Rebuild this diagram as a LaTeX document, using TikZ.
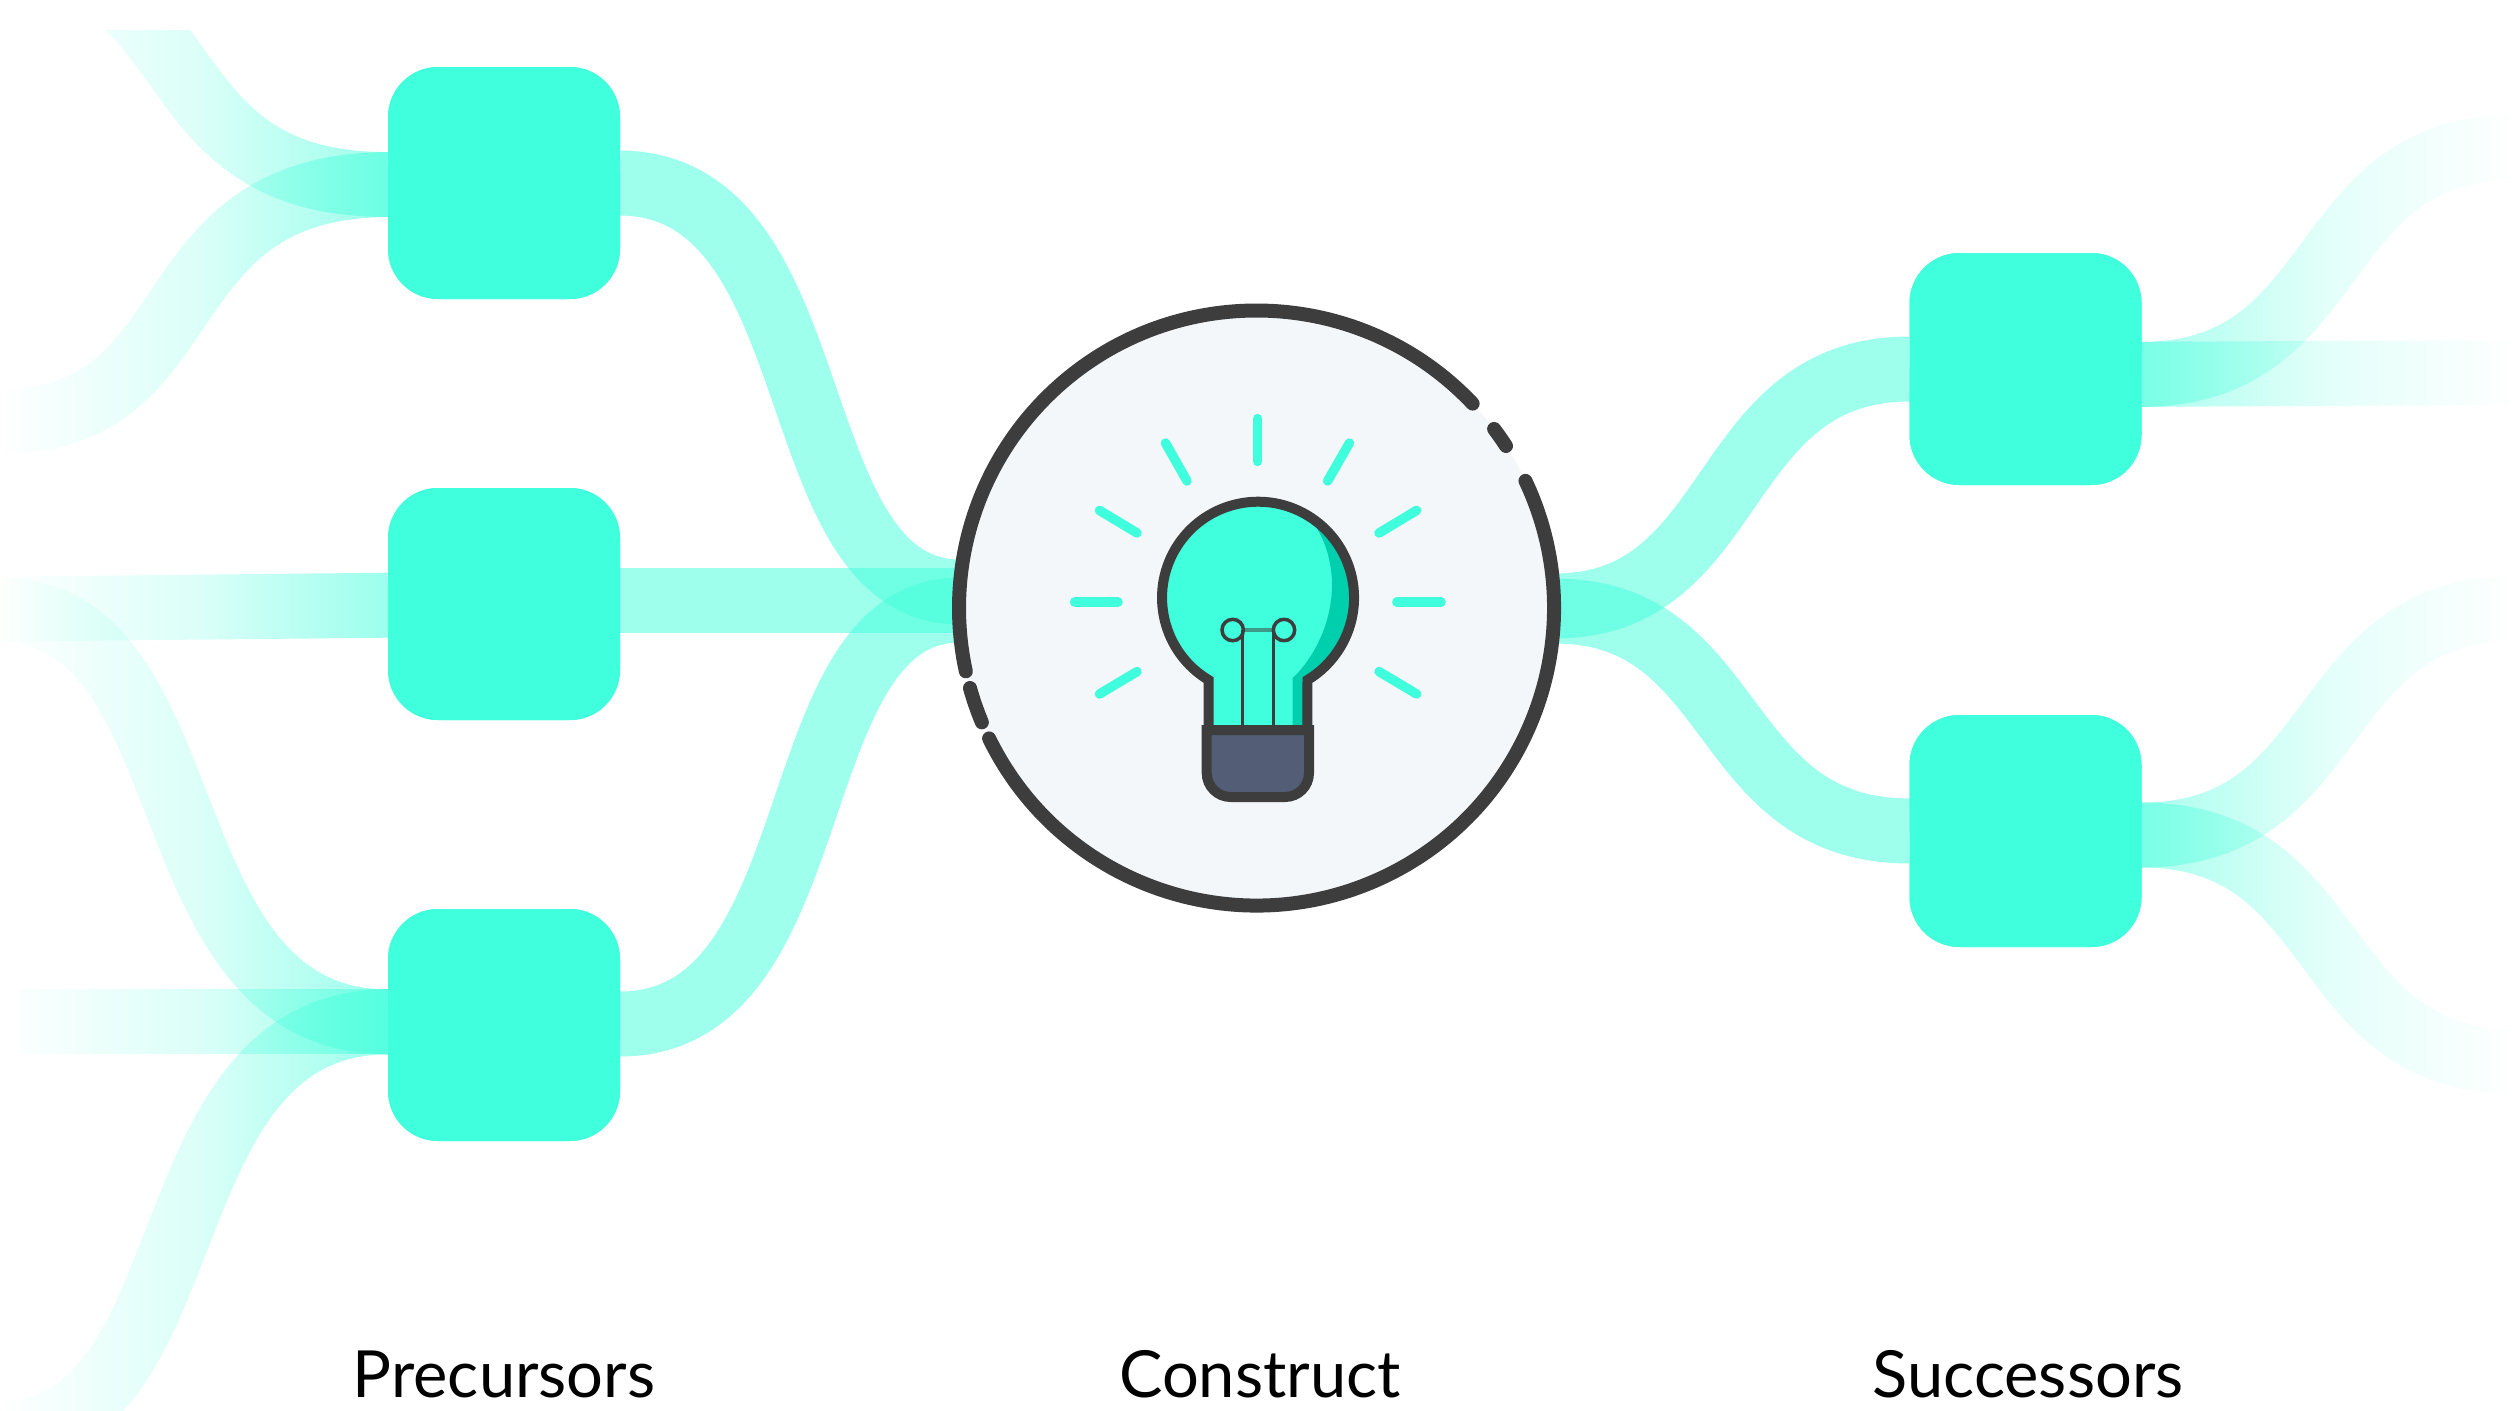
\documentclass[tikz,border=0pt]{standalone}
\usepackage{fontspec}
\setmainfont{Lato}
\usetikzlibrary{fadings}
\definecolor{mint}{HTML}{40FFDC}
\definecolor{mintdark}{HTML}{00CFAD}
\definecolor{ink}{HTML}{3D3D3D}
\definecolor{disc}{HTML}{F3F7FA}
\definecolor{cap}{HTML}{535D76}
\definecolor{wire}{HTML}{3D9A88}
\tikzfading[name=fadeleft, left color=transparent!100, right color=transparent!48, middle color=transparent!82]
\tikzfading[name=faderight, left color=transparent!55, right color=transparent!100, middle color=transparent!86]
\tikzset{
  x=1pt,y=-1pt,
  boxnode/.style={draw=none,fill=mint,rounded corners=50pt,minimum size=232pt,inner sep=0pt,outer sep=0pt},
  flowline/.style={line width=65pt,draw=mint},
  solidflow/.style={flowline,draw opacity=0.5},
  ray/.style={line width=9.5pt,draw=mint,line cap=round},
  rim/.style={line width=14pt,draw=ink,line cap=round},
  bulbline/.style={line width=10pt,draw=ink,line join=miter},
  fil/.style={line width=3.5pt,draw=ink},
  lab/.style={anchor=base,inner sep=0pt,font=\fontsize{65pt}{72pt}\selectfont,text=black},
}
\newcommand{\leftflow}[1]{\begin{scope}\clip (0,30) rectangle (388,1411);\path[scope fading=fadeleft] (0,0) rectangle (388,1411);\draw[flowline] #1;\end{scope}}
\newcommand{\rightflow}[1]{\begin{scope}\clip (2141,0) rectangle (2517,1411);\path[scope fading=faderight] (2141,0) rectangle (2517,1411);\draw[flowline] #1;\end{scope}}
\begin{document}
\begin{tikzpicture}
\useasboundingbox (0,0) rectangle (2517,1411);
\fill[white] (0,0) rectangle (2517,1411);
% named places
\node[circle,minimum size=595pt,inner sep=0pt,outer sep=0pt] (hub) at (1256.5,608) {};
\node[boxnode] (p1) at (504,183) {};
\node[boxnode] (p2) at (504,604) {};
\node[boxnode] (p3) at (504,1025) {};
\node[boxnode] (s1) at (2025.5,369) {};
\node[boxnode] (s2) at (2025.5,831) {};
\coordinate (a1) at (0,-41);
\coordinate (a2) at (0,420);
\coordinate (a3) at (0,608);
\coordinate (a4) at (0,609);
\coordinate (a5) at (20,1021);
\coordinate (a6) at (0,1433);
\coordinate (h1) at (960,592);
\coordinate (h2) at (960,600);
\coordinate (h3) at (960,610);
\coordinate (h4) at (1555,606);
\coordinate (h5) at (1555,611);
\coordinate (z1) at (2517,145);
\coordinate (z2) at (2517,371);
\coordinate (z3) at (2517,607);
\coordinate (z4) at (2517,1061);
\coordinate (p2e) at ([yshift=4pt]p2.east);
\coordinate (p3w) at ([yshift=4pt]p3.west);
\coordinate (p3e) at ([yshift=1pt]p3.east);
\coordinate (s1e) at ([yshift=-4pt]s1.east);
\coordinate (s2e) at ([yshift=-3pt]s2.east);
% faded flows
\leftflow{(p1.west) .. controls (144,184) and (210,-41) .. (a1)}
\leftflow{(p1.west) .. controls (144,184) and (210,420) .. (a2)}
\leftflow{(p2.west) -- (a3)}
\leftflow{(p3w) .. controls (144,1021) and (210,609) .. (a4)}
\leftflow{(p3w) -- (a5)}
\leftflow{(p3w) .. controls (144,1021) and (210,1433) .. (a6)}
\rightflow{(s1e) .. controls (2348,373) and (2310,145) .. (z1)}
\rightflow{(s1e) -- (z2)}
\rightflow{(s2e) .. controls (2348,834) and (2310,607) .. (z3)}
\rightflow{(s2e) .. controls (2348,834) and (2310,1061) .. (z4)}
% solid flows
\draw[solidflow] (p1.east) .. controls (834,184) and (778,592) .. (h1);
\draw[solidflow] (p2e) -- (h2);
\draw[solidflow] (p3e) .. controls (834,1024) and (778,610) .. (h3);
\draw[solidflow] (h4) .. controls (1741,606) and (1715,369) .. (s1.west);
\draw[solidflow] (h5) .. controls (1741,611) and (1715,831) .. (s2.west);
% boxes on top
\node[boxnode] at (p1.center) {};
\node[boxnode] at (p2.center) {};
\node[boxnode] at (p3.center) {};
\node[boxnode] at (s1.center) {};
\node[boxnode] at (s2.center) {};
% hub
\fill[disc] (hub.center) circle[radius=297.5pt];
\draw[rim] ([shift=(43.4:297.5pt)]hub.center) arc[start angle=43.4,end angle=192.3,radius=297.5pt];
\draw[rim] ([shift=(195.6:297.5pt)]hub.center) arc[start angle=195.6,end angle=202.6,radius=297.5pt];
\draw[rim] ([shift=(206:297.5pt)]hub.center) arc[start angle=206,end angle=385.3,radius=297.5pt];
\draw[rim] ([shift=(33:297.5pt)]hub.center) arc[start angle=33,end angle=37,radius=297.5pt];
% rays
\draw[ray] (1257.6,418.6) -- (1257.6,461.4);
\draw[ray] (1165.5,443) -- (1187,481);
\draw[ray] (1349.4,443) -- (1327.6,481);
\draw[ray] (1099.5,510.4) -- (1137,533);
\draw[ray] (1416.6,510.4) -- (1379,533);
\draw[ray] (1074.6,602) -- (1118,602);
\draw[ray] (1396.8,602) -- (1441,602);
\draw[ray] (1099.5,694) -- (1137,671.6);
\draw[ray] (1416.6,694) -- (1379,671.6);
% bulb
\fill[mint] (1208.6,730) -- (1208.6,680) arc[start angle=239,end angle=-59,radius=96pt] -- (1307.4,730) -- cycle;
\begin{scope}
\clip (1208.6,730) -- (1208.6,680) arc[start angle=239,end angle=-59,radius=96pt] -- (1307.4,730) -- cycle;
\fill[mintdark] (1290,500) .. controls (1318,518) and (1332,552) .. (1332,585) .. controls (1332,625) and (1312,660) .. (1292.7,678) -- (1292.7,730) -- (1330,730) -- (1370,680) -- (1370,480) -- cycle;
\end{scope}
\draw[wire,line width=4pt] (1243,630) -- (1273,630);
\draw[fil] (1242.7,630) -- (1242.7,730);
\draw[fil] (1273.3,630) -- (1273.3,730);
\draw[fil] (1232.7,630) circle[radius=10.7pt];
\draw[fil] (1284,630) circle[radius=10.7pt];
\draw[bulbline] (1208.6,730) -- (1208.6,680) arc[start angle=239,end angle=-59,radius=96pt] -- (1307.4,730);
\draw[bulbline,fill=cap] (1206.7,730) [rounded corners=24pt] -- (1206.7,797) -- (1309,797) [sharp corners] -- (1309,730) -- cycle;
% labels
\node[lab] (lp) at (504,1397) {Precursors};
\node[lab] (lc) at (1260,1397) {Construct};
\node[lab] (ls) at (2028,1397) {Successors};
\end{tikzpicture}
\end{document}
